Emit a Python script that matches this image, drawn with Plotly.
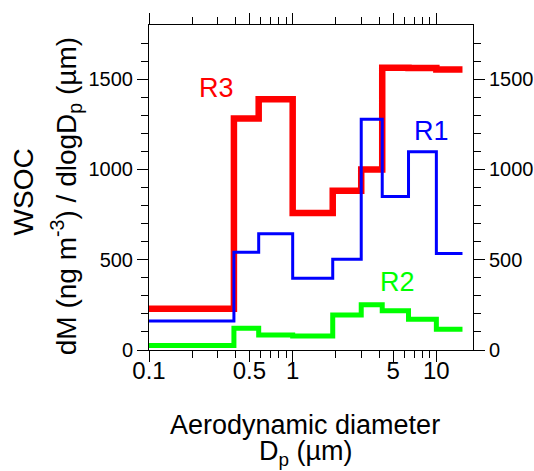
import plotly.graph_objects as go

# Bin edges (aerodynamic diameter, µm)
edges = [0.1, 0.39, 0.58, 1.0, 1.9, 3.0, 4.2, 6.4, 10.0, 15.2]
# dM/dlogDp values per bin
r3 = [228, 1282, 1389, 759, 882, 1000, 1563, 1562, 1553]
r1 = [161, 541, 644, 398, 503, 1278, 850, 1098, 535]
r2 = [25, 120, 83, 77, 194, 250, 217, 170, 115]

series = [("R3", r3, "#ff0000", 6.5), ("R1", r1, "#0000ff", 3), ("R2", r2, "#00ff00", 5)]

x_major = [0.1, 0.5, 1, 5, 10]
x_major_text = ["0.1", "0.5", "1", "5", "10"]
x_minor = [0.2, 0.3, 0.4, 0.6, 0.7, 0.8, 0.9, 2, 3, 4, 6, 7, 8, 9]
y_major = [0, 500, 1000, 1500]
y_minor = [v for v in range(100, 1800, 100) if v % 500 != 0]

FONT = "Arial, Liberation Sans, sans-serif"
fig = go.Figure()
for name, vals, color, w in series:
    fig.add_trace(go.Scatter(
        x=edges, y=vals + [vals[-1]], mode="lines", line=dict(shape="hv", color=color, width=w),
        name=name, showlegend=False, hoverinfo="skip"))
# helper trace to anchor secondary axes
fig.add_trace(go.Scatter(x=[1], y=[0], xaxis="x2", yaxis="y2", mode="markers",
                         marker=dict(opacity=0), showlegend=False, hoverinfo="skip"))

xr = [-1, 1.255]
yr = [0, 1800]
common_x = dict(type="log", range=xr, showline=True, linecolor="black", linewidth=1,
                ticks="outside", ticklen=11, tickcolor="black", tickwidth=1, automargin=False,
                tickvals=x_major, ticktext=x_major_text, showgrid=False, zeroline=False,
                minor=dict(ticks="outside", ticklen=7, tickvals=x_minor, tickcolor="black", showgrid=False))
common_y = dict(range=yr, showline=True, linecolor="black", linewidth=1, automargin=False,
                ticks="outside", ticklen=11, tickcolor="black", tickwidth=1,
                tickvals=y_major, showgrid=False, zeroline=False,
                minor=dict(ticks="outside", ticklen=7, tickvals=y_minor, tickcolor="black", showgrid=False))

fig.update_layout(
    width=534, height=471, autosize=False,
    margin=dict(l=149, r=61, t=25, b=121, autoexpand=False),
    plot_bgcolor="white", paper_bgcolor="white",
    font=dict(family=FONT, color="black"),
    xaxis=dict(**common_x, tickfont=dict(size=24, family=FONT), ticklabelstandoff=-12),
    xaxis2=dict(**common_x, overlaying="x", side="top", showticklabels=False),
    yaxis=dict(**common_y, tickfont=dict(size=20, family=FONT)),
    yaxis2=dict(**common_y, overlaying="y", side="right", tickfont=dict(size=20, family=FONT)),
)

ann = [
    dict(text="R3", x=0.209, y=0.806, color="#ff0000", size=27),
    dict(text="R1", x=0.873, y=0.675, color="#0000ff", size=27),
    dict(text="R2", x=0.766, y=0.209, color="#00ff00", size=27),
]
for a in ann:
    fig.add_annotation(text=a["text"], x=a["x"], y=a["y"], xref="paper", yref="paper",
                       showarrow=False, xanchor="center", yanchor="middle",
                       font=dict(size=a["size"], color=a["color"], family=FONT))

# axis titles
fig.add_annotation(text="Aerodynamic diameter", x=0.483, y=-0.231, xref="paper", yref="paper",
                   showarrow=False, xanchor="center", yanchor="middle", font=dict(size=27, family=FONT))
fig.add_annotation(text="D<sub>p</sub> (µm)", x=0.486, y=-0.317, xref="paper", yref="paper",
                   showarrow=False, xanchor="center", yanchor="middle", font=dict(size=27, family=FONT))
fig.add_annotation(text="WSOC", x=(24 - 149.3) / 324, y=(350 - 191.7) / 325, xref="paper", yref="paper",
                   showarrow=False, textangle=-90, xanchor="center", yanchor="middle",
                   font=dict(size=28, family=FONT))
fig.add_annotation(text="dM (ng m<sup>-3</sup>) / dlogD<sub>p</sub> (µm)", x=(66.5 - 149.3) / 324,
                   y=(350 - 196) / 325, xref="paper", yref="paper",
                   showarrow=False, textangle=-90, xanchor="center", yanchor="middle",
                   font=dict(size=28, family=FONT))

fig.write_html("out.html", config={"displayModeBar": False},
               post_script="document.body.style.margin='0';document.body.style.padding='0';")
